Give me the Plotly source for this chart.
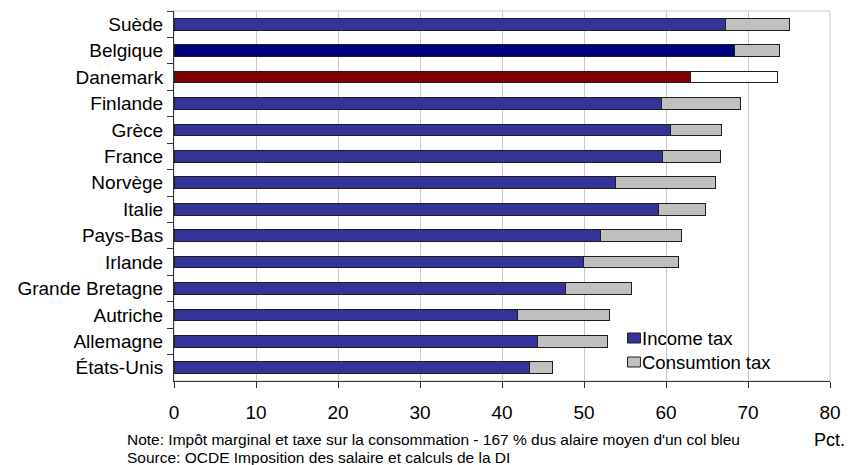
import plotly.graph_objects as go

# Marginal tax on income plus consumption tax, by country (Pct.)
countries = ["Suède", "Belgique", "Danemark", "Finlande", "Grèce", "France", "Norvège",
             "Italie", "Pays-Bas", "Irlande", "Grande Bretagne", "Autriche", "Allemagne",
             "États-Unis"]
income_tax = [67.3, 68.4, 63.0, 59.5, 60.6, 59.6, 53.8, 59.1, 52.0, 49.9, 47.7, 41.9, 44.3, 43.3]
consumption_tax = [7.7, 5.4, 10.6, 9.6, 6.2, 7.0, 12.2, 5.7, 9.9, 11.6, 8.1, 11.2, 8.6, 2.9]

x_ticks = [0, 10, 20, 30, 40, 50, 60, 70, 80]

FONT = "Liberation Sans, Arial, sans-serif"
INCOME_COLOR = "#333399"
CONSUMPTION_COLOR = "#c0c0c0"
OUTLINE = "#1e1e1e"
GRID = "#c8c8c8"

# Countries drawn in their own colours
income_highlight = {"Belgique": "#000080", "Danemark": "#800000"}
consumption_highlight = {"Danemark": "#ffffff"}

income_colors = [income_highlight.get(c, INCOME_COLOR) for c in countries]
consumption_colors = [consumption_highlight.get(c, CONSUMPTION_COLOR) for c in countries]

W, H = 852, 465
ML, MR, MT, MB = 174, 17, 11, 84


def px_x(p):
    return (p - ML) / (W - ML - MR)


def px_y(p):
    return (H - MB - p) / (H - MT - MB)


fig = go.Figure()
fig.add_trace(go.Bar(
    y=countries, x=income_tax, orientation="h", name="Income tax",
    marker=dict(color=income_colors, line=dict(color=OUTLINE, width=1)),
    showlegend=False,
))
fig.add_trace(go.Bar(
    y=countries, x=consumption_tax, orientation="h", name="Consumtion tax",
    marker=dict(color=consumption_colors, line=dict(color=OUTLINE, width=1)),
    showlegend=False,
))

shapes = [
    # light frame around the plotting area
    dict(type="rect", xref="x domain", yref="y domain", x0=0, x1=1, y0=0, y1=1,
         line=dict(color=GRID, width=1), layer="below"),
]

# Key for the two series
legend_items = [("Income tax", INCOME_COLOR, 338),
                ("Consumtion tax", CONSUMPTION_COLOR, 362)]
annotations = []
for label, color, mid in legend_items:
    shapes.append(dict(type="rect", xref="paper", yref="paper",
                       x0=px_x(631), x1=px_x(644), y0=px_y(mid + 5), y1=px_y(mid - 5),
                       fillcolor=color, line=dict(color=OUTLINE, width=1), layer="above"))
    annotations.append(dict(text=label, xref="paper", yref="paper", x=px_x(645),
                            y=px_y(mid), xanchor="left", yanchor="middle", showarrow=False,
                            borderpad=0, font=dict(family=FONT, size=18.5, color="#000")))

annotations += [
    dict(text="Note: Impôt marginal et taxe sur la consommation - 167 % dus alaire moyen d'un col bleu",
         xref="paper", yref="paper", x=px_x(125), y=px_y(439), xanchor="left",
         yanchor="middle", showarrow=False, font=dict(family=FONT, size=15.5, color="#000")),
    dict(text="Source: OCDE Imposition des salaire et calculs de la DI",
         xref="paper", yref="paper", x=px_x(125), y=px_y(457), xanchor="left",
         yanchor="middle", showarrow=False, font=dict(family=FONT, size=15.5, color="#000")),
    dict(text="Pct.", xref="paper", yref="paper", x=px_x(852), y=px_y(440),
         xanchor="right", yanchor="middle", showarrow=False,
         font=dict(family=FONT, size=18, color="#000")),
]

fig.update_layout(
    width=W, height=H,
    margin=dict(l=ML, r=MR, t=MT, b=MB, pad=0),
    barmode="stack", bargap=0.56,
    paper_bgcolor="white", plot_bgcolor="white",
    font=dict(family=FONT, size=19, color="#000"),
    shapes=shapes, annotations=annotations,
    xaxis=dict(range=[0, 80], tickvals=x_ticks, ticktext=[str(v) for v in x_ticks],
               showgrid=True, gridcolor=GRID, gridwidth=1, zeroline=False,
               showline=True, linecolor="#333", linewidth=1,
               ticks="outside", ticklen=6, tickcolor="#333",
               tickfont=dict(family=FONT, size=19, color="#000"), ticklabelstandoff=8),
    yaxis=dict(type="category", categoryorder="array", categoryarray=countries,
               autorange="reversed", showgrid=False, zeroline=False,
               showline=True, linecolor="#333", linewidth=1,
               ticks="outside", tickson="boundaries", ticklen=6, tickcolor="#333",
               tickfont=dict(family=FONT, size=19, color="#000"), ticklabelstandoff=6),
)

fig.write_html("out.html")
